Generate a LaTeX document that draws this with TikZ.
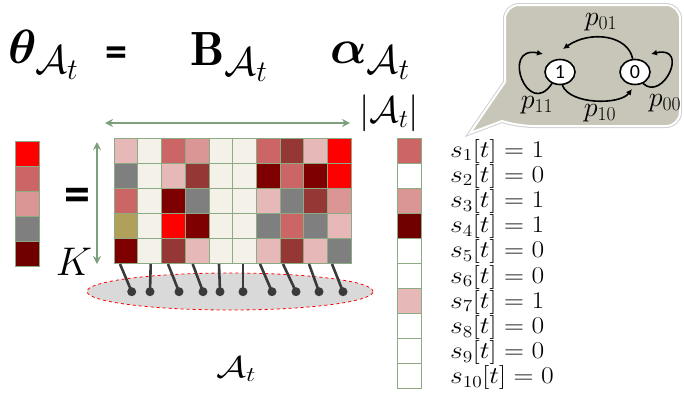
\RequirePackage{fix-cm}
\documentclass[tikz,border=0pt]{standalone}
\usepackage{amsmath,bm}
\usepackage{fontspec}
\newfontfamily\cfont{Carlito}
\usetikzlibrary{arrows.meta,shapes.geometric}
\DeclareMathSizes{48}{48}{40}{30}
\definecolor{pinkL}{HTML}{E6B9B8}
\definecolor{pinkM}{HTML}{D99694}
\definecolor{redM}{HTML}{CC6666}
\definecolor{redD}{HTML}{953735}
\definecolor{maroon}{HTML}{7F0000}
\definecolor{maroonD}{HTML}{700000}
\definecolor{cred}{HTML}{FF0000}
\definecolor{cgray}{HTML}{7F7F7F}
\definecolor{olive}{HTML}{B0A05A}
\definecolor{cream}{HTML}{F4F1E8}
\definecolor{gborder}{HTML}{8CAA84}
\definecolor{garrow}{HTML}{7BA07B}
\definecolor{callfill}{HTML}{C8C6B8}
\definecolor{pingray}{HTML}{3A3A3A}
\tikzset{
  cell/.style={draw=gborder, line width=0.6pt, minimum width=23.7pt, minimum height=25pt, inner sep=0pt, outer sep=0pt, anchor=north west},
  vcell/.style={draw=gborder, line width=0.6pt, minimum width=24pt, minimum height=25pt, inner sep=0pt, outer sep=0pt, anchor=north west},
  garr/.style={draw=garrow, line width=2.2pt, {Stealth[length=8pt,width=8pt]}-{Stealth[length=8pt,width=8pt]}},
  pin/.style={draw=pingray, line width=2.6pt},
  dot/.style={circle, fill=pingray, minimum size=9pt, inner sep=0pt},
  state/.style={ellipse, draw=black, line width=1.6pt, fill=white, minimum width=30pt, minimum height=25pt, inner sep=0pt, font=\cfont\fontsize{20}{20}\selectfont},
  trans/.style={draw=black, line width=1.6pt, -{Latex[length=6pt,width=6pt]}},
  plab/.style={inner sep=0pt, font=\fontsize{28}{30}\selectfont},
  slab/.style={inner sep=0pt, anchor=west, font=\fontsize{24}{26}\selectfont},
}
\begin{document}
\begin{tikzpicture}[x=1pt,y=-1pt]
\useasboundingbox (0,0) rectangle (684,392);

% top equation
\node[anchor=base west, inner sep=0pt, font=\fontsize{48}{50}\selectfont] (theta) at (8,63) {$\boldsymbol{\theta}_{\mathcal{A}_t}$};
\node[inner sep=0pt, font=\cfont\bfseries\fontsize{44}{44}\selectfont] (eqtop) at (116,57) {=};
\node[anchor=base west, inner sep=0pt, font=\fontsize{48}{50}\selectfont] (B) at (190,65) {$\mathbf{B}_{\mathcal{A}_t}$};
\node[anchor=base west, inner sep=0pt, font=\fontsize{48}{50}\selectfont] (alpha) at (330,63) {$\boldsymbol{\alpha}_{\mathcal{A}_t}$};
\node[inner sep=0pt, font=\fontsize{37}{39}\selectfont] (card) at (389,113) {$|\mathcal{A}_t|$};

% left vector
\foreach \col [count=\i] in {cred,redM,pinkM,cgray,maroonD}
  \node[vcell, fill=\col] (v\i) at (15,{141+25*(\i-1)}) {};
\node[inner sep=0pt, font=\cfont\bfseries\fontsize{52}{52}\selectfont] (eqleft) at (77,200) {=};
\node[inner sep=0pt, font=\fontsize{40}{42}\selectfont] (K) at (74,262) {$K$};

% matrix
\foreach \row [count=\r] in {
  {pinkL,cream,redM,pinkM,cream,cream,redM,redD,pinkL,cred},
  {cgray,cream,pinkL,redD,cream,cream,maroon,redM,maroon,cred},
  {redM,cream,maroon,cgray,cream,cream,pinkL,cgray,redD,pinkM},
  {olive,cream,cred,maroon,cream,cream,cgray,redM,cgray,pinkL},
  {maroon,cream,redD,pinkL,cream,cream,pinkL,redD,pinkL,cgray}}
  \foreach \col [count=\c] in \row
    \node[cell, fill=\col] (m\r-\c) at ({114+23.7*(\c-1)},{138+25*(\r-1)}) {};

% dimension arrows
\coordinate (hL) at (105,123);
\coordinate (hR) at (350,123);
\draw[garr] (hL) -- (hR);
\coordinate (vT) at (97,142);
\coordinate (vB) at (97,264);
\draw[garr] (vT) -- (vB);

% ellipse of active set
\node[ellipse, draw=red, dashed, line width=0.8pt, fill=black!15, minimum width=286pt, minimum height=37pt, inner sep=0pt] (E) at (230,291.5) {};
\foreach \tx/\dx [count=\i] in {120/131.7,150.7/150,168/179,192.7/203,219/220,243/243,260/272,283/296,309/319,332/343} {
  \coordinate (t\i) at (\tx,264);
  \node[dot] (d\i) at (\dx,291.7) {};
  \draw[pin] (t\i) -- (d\i.center);
}
\node[inner sep=0pt, font=\fontsize{30}{32}\selectfont] (At) at (236,369) {\scalebox{1.25}[1]{$\mathcal{A}_t$}};

% right vector and labels
\foreach \col [count=\i] in {redM,white,pinkM,maroonD,white,white,pinkL,white,white,white} {
  \node[vcell, fill=\col] (a\i) at (397,{138+25*(\i-1)}) {};
  \node[slab] (s\i) at (450,{151+25.2*(\i-1)}) {\scalebox{1.15}[1]{$s_{\i}[t] = \ifnum\i=1 1\else\ifnum\i=3 1\else\ifnum\i=4 1\else\ifnum\i=7 1\else 0\fi\fi\fi\fi$}};
}

% callout
\draw[line width=4pt, black!18, rounded corners=14pt] (505,82) -- (505,5) -- (680,5) -- (680,126) -- (520,126) [sharp corners] -- (502,121) -- (470,133) -- cycle;
\draw[line width=2pt, white, fill=callfill, rounded corners=14pt] (505,82) -- (505,5) -- (680,5) -- (680,126) -- (520,126) [sharp corners] -- (502,121) -- (470,133) -- cycle;

% Markov chain
\node[state] (one) at (560,72) {1};
\node[state] (zero) at (635,72) {0};
\coordinate (u1) at (563,49);
\coordinate (l0) at (632,89);
\coordinate (s1) at (543,54);
\coordinate (s0) at (651,54);
\draw[trans] (zero.100) .. controls (628,35) and (590,30) .. (u1);
\draw[trans] (one.280) .. controls (570,105) and (620,105) .. (l0);
\draw[trans] (one.235) .. controls (528,120) and (500,45) .. (s1);
\draw[trans] (zero.-55) .. controls (663,102) and (690,45) .. (s0);
\node[plab] (p01) at (601,22) {$p_{01}$};
\node[plab] (p10) at (600,113) {$p_{10}$};
\node[plab] (p11) at (537,105) {$p_{11}$};
\node[plab] (p00) at (665,103) {$p_{00}$};
\end{tikzpicture}
\end{document}
